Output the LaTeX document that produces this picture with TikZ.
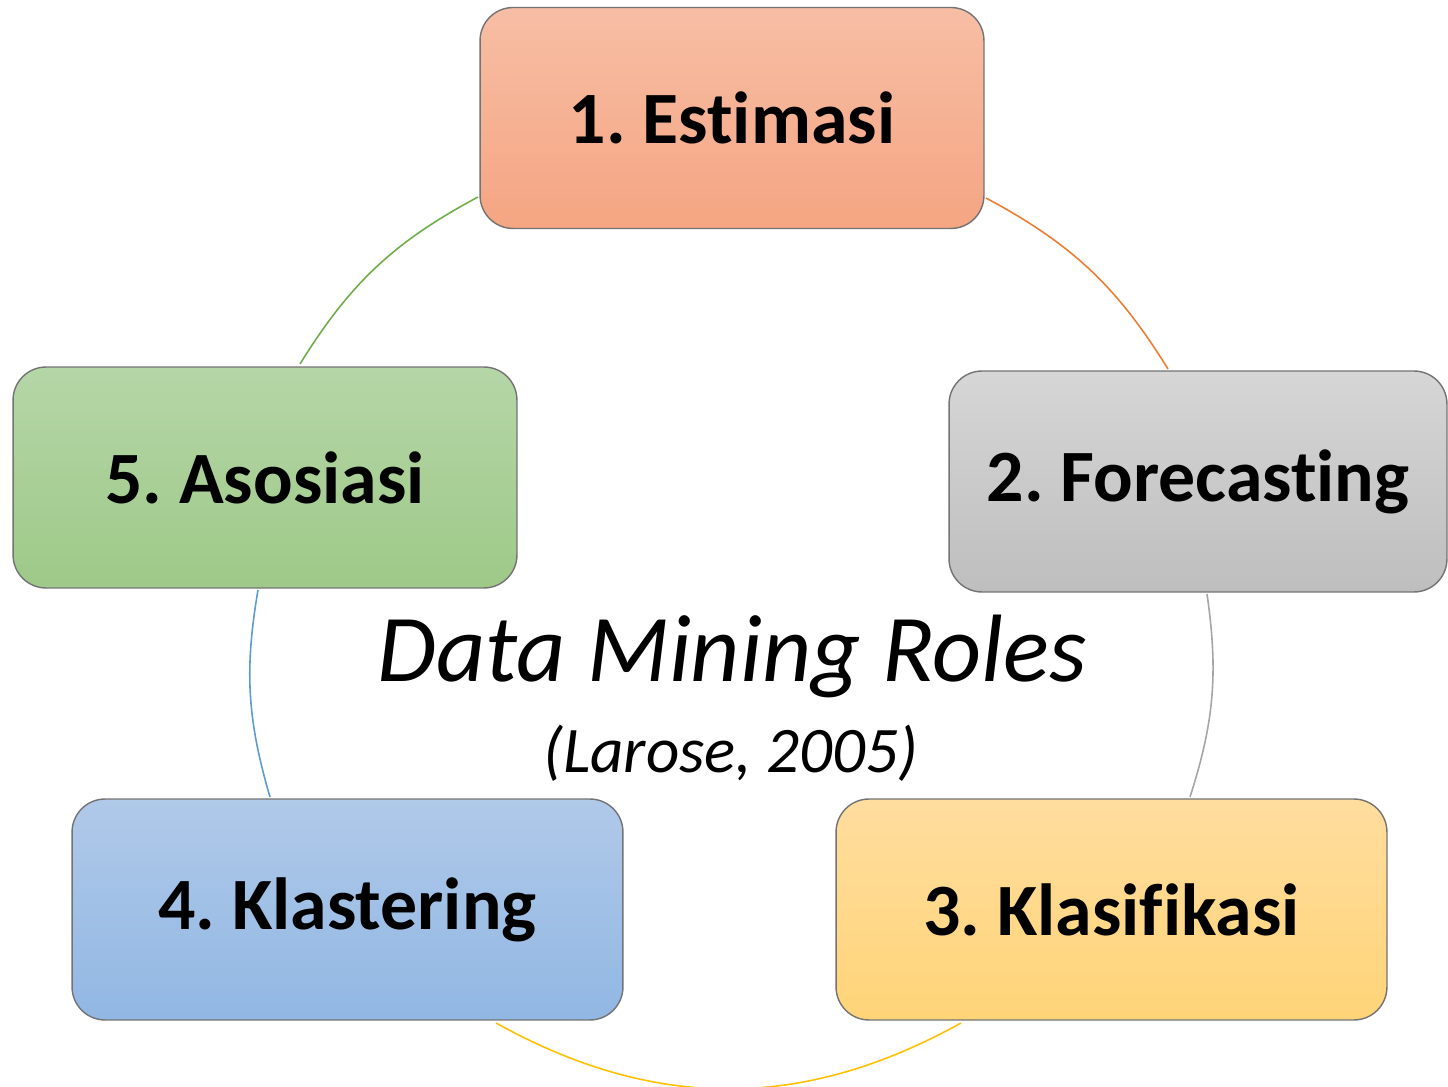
\documentclass[tikz,border=0pt]{standalone}
\usepackage{fontspec}
\setmainfont{Carlito}[Ligatures={NoCommon}]

\definecolor{estTop}{RGB}{247,190,165}
\definecolor{estBot}{RGB}{245,165,130}
\definecolor{forTop}{RGB}{214,214,214}
\definecolor{forBot}{RGB}{190,190,190}
\definecolor{klsTop}{RGB}{255,221,158}
\definecolor{klsBot}{RGB}{255,212,120}
\definecolor{kltTop}{RGB}{176,201,233}
\definecolor{kltBot}{RGB}{145,183,227}
\definecolor{asoTop}{RGB}{181,214,167}
\definecolor{asoBot}{RGB}{158,201,136}
\definecolor{boxline}{RGB}{115,115,115}
\definecolor{arcGreen}{RGB}{112,173,71}
\definecolor{arcOrange}{RGB}{237,125,49}
\definecolor{arcGray}{RGB}{165,165,165}
\definecolor{arcYellow}{RGB}{255,192,0}
\definecolor{arcBlue}{RGB}{91,155,213}

\tikzset{
  rolebox/.style={draw=boxline,line width=0.8pt,rounded corners=18.8pt,
    minimum width=10.08cm,minimum height=4.42cm,inner sep=0pt,
    font=\fontsize{42}{50}\selectfont\bfseries},
  rolearc/.style={line width=0.9pt}
}

\frenchspacing
\begin{document}
\begin{tikzpicture}[x=0.02cm,y=-0.02cm]
  \useasboundingbox (0,0) rectangle (1448,1087);

  \coordinate (o1) at (986,198);   \coordinate (o2) at (1168,369);
  \coordinate (g1) at (1207,594);  \coordinate (g2) at (1190,797);
  \coordinate (y1) at (961,1023);  \coordinate (y2) at (496,1023);
  \coordinate (b1) at (270,797);   \coordinate (b2) at (258,590);
  \coordinate (h1) at (300,364);   \coordinate (h2) at (478,197);

  \draw[rolearc,arcOrange] (o1) to[bend left=15] (o2);
  \draw[rolearc,arcGray] (g1) to[bend left=13] (g2);
  \draw[rolearc,arcYellow] (y1) to[bend left=29] (y2);
  \draw[rolearc,arcBlue] (b1) to[bend left=13] (b2);
  \draw[rolearc,arcGreen] (h1) to[bend left=15] (h2);

  \node[rolebox,top color=estTop,bottom color=estBot] (estimasi) at (732,118) {1. Estimasi};
  \node[rolebox,top color=forTop,bottom color=forBot,minimum width=9.96cm] (forecast) at (1198,481.5) {2. Forecasting};
  \node[rolebox,top color=klsTop,bottom color=klsBot,minimum width=11.02cm] (klasif) at (1111.5,909.5) {3. Klasifikasi};
  \node[rolebox,top color=kltTop,bottom color=kltBot,minimum width=11.02cm] (klaster) at (347.5,909.5) {4. Klastering};
  \node[rolebox,top color=asoTop,bottom color=asoBot] (asosiasi) at (265,477.5) {5. Asosiasi};

  \node[font=\fontsize{54.5}{62}\selectfont\itshape,anchor=base] (judul) at (732,682) {Data Mining Roles};
  \node[font=\fontsize{37}{44}\selectfont\itshape,anchor=base] (sumber) at (731,773) {(Larose, 2005)};
\end{tikzpicture}
\end{document}
